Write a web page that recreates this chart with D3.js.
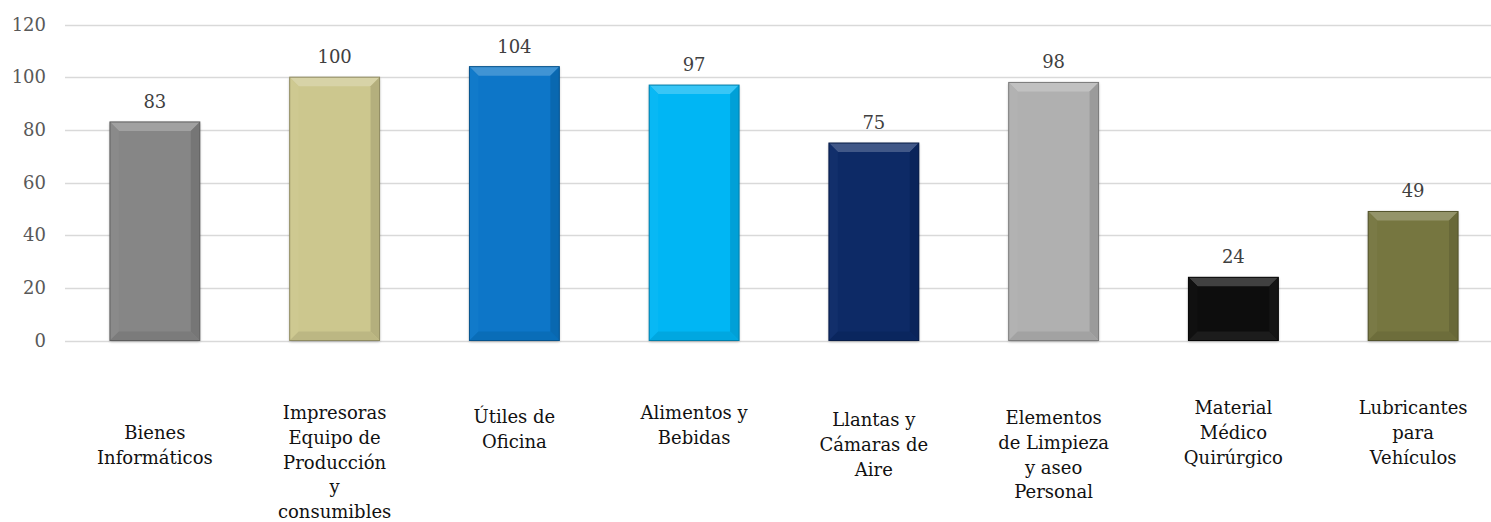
<!DOCTYPE html>
<html><head><meta charset="utf-8">
<script src="https://cdn.jsdelivr.net/npm/d3@7"></script>
<style>
html,body{margin:0;padding:0;background:#fff;}
svg{display:block;}
text{font-family:"DejaVu Serif",serif;}
</style></head>
<body>
<svg id="chart" width="1491" height="522"></svg>
<script>
// ---- data ----
const categories = [
  "Bienes Informáticos",
  "Impresoras Equipo de Producción y consumibles",
  "Útiles de Oficina",
  "Alimentos y Bebidas",
  "Llantas y Cámaras de Aire",
  "Elementos de Limpieza y aseo Personal",
  "Material Médico Quirúrgico",
  "Lubricantes para Vehículos"
];
const labelLines = [
  ["Bienes", "Informáticos"],
  ["Impresoras", "Equipo de", "Producción", "y", "consumibles"],
  ["Útiles de", "Oficina"],
  ["Alimentos y", "Bebidas"],
  ["Llantas y", "Cámaras de", "Aire"],
  ["Elementos", "de Limpieza", "y aseo", "Personal"],
  ["Material", "Médico", "Quirúrgico"],
  ["Lubricantes", "para", "Vehículos"]
];
const values = [83, 100, 104, 97, 75, 98, 24, 49];
const yTicks = [0, 20, 40, 60, 80, 100, 120];

// ---- styles / layout ----
const barColors = ["#868686", "#CCC78E", "#0A76C8", "#00B6F4", "#0B2966", "#B0B0B0", "#080808", "#767640"];
const labelTop = [433, 413, 417, 413, 420, 418, 408, 408];

const svg = d3.select("#chart");
const margin = {left: 65, right: -12, top: 24.5, bottom: 181.5};
const W = 1491, H = 522;

const x = d3.scaleBand().domain(categories).range([margin.left, W - margin.right]).paddingInner(0.5).paddingOuter(0.25);
const y = d3.scaleLinear().domain([0, 120]).range([H - margin.bottom, margin.top]);

// defs: shadow
const defs = svg.append("defs");
const f = defs.append("filter").attr("id", "sh").attr("x", "-20%").attr("y", "-20%").attr("width", "140%").attr("height", "140%");
f.append("feGaussianBlur").attr("in", "SourceAlpha").attr("stdDeviation", 1.5);
f.append("feOffset").attr("dx", 0).attr("dy", 1).attr("result", "b");
f.append("feComponentTransfer").append("feFuncA").attr("type", "linear").attr("slope", 0.3);
const fm = f.append("feMerge");
fm.append("feMergeNode");
fm.append("feMergeNode").attr("in", "SourceGraphic");

// gridlines
svg.append("g").selectAll("line").data(yTicks).join("line")
  .attr("x1", margin.left).attr("x2", W)
  .attr("y1", d => Math.round(y(d)) + 0.5).attr("y2", d => Math.round(y(d)) + 0.5)
  .attr("stroke", "#D9D9D9").attr("stroke-width", 1.5);

// y axis
const yAxis = d3.axisLeft(y).tickValues(yTicks).tickSize(0).tickPadding(0);
const ga = svg.append("g").attr("transform", `translate(46,0)`).call(yAxis);
ga.select(".domain").remove();
ga.selectAll("text").attr("font-size", 18).attr("fill", "#595959").attr("font-family", "DejaVu Serif");

// bars
const bw = x.bandwidth();
const bev = 9;
const bars = svg.append("g").selectAll("g.bar").data(values).join("g")
  .attr("class", "bar")
  .attr("transform", (d, i) => `translate(${x(categories[i])},${y(d)})`);

bars.append("rect")
  .attr("width", bw).attr("height", d => y(0) - y(d))
  .attr("fill", (d, i) => barColors[i])
  .attr("filter", "url(#sh)");

function lighter(c, k) { return d3.interpolateRgb(c, "#ffffff")(k); }
function darker(c, k) { return d3.interpolateRgb(c, "#000000")(k); }

bars.each(function(d, i) {
  const g = d3.select(this);
  const h = y(0) - y(d);
  const b = Math.min(bev, h / 2);
  const c = barColors[i];
  const blk = i === 6;
  // top bevel
  g.append("path").attr("d", `M0,0 L${bw},0 L${bw - b},${b} L${b},${b} Z`)
    .attr("fill", blk ? "#404040" : lighter(c, 0.22));
  // left bevel
  g.append("path").attr("d", `M0,0 L${b},${b} L${b},${h - b} L0,${h} Z`)
    .attr("fill", blk ? "#101010" : lighter(c, 0.03));
  // right bevel
  g.append("path").attr("d", `M${bw},0 L${bw},${h} L${bw - b},${h - b} L${bw - b},${b} Z`)
    .attr("fill", blk ? "#151515" : darker(c, 0.12));
  // bottom bevel
  g.append("path").attr("d", `M0,${h} L${b},${h - b} L${bw - b},${h - b} L${bw},${h} Z`)
    .attr("fill", blk ? "#1c1c1c" : darker(c, 0.08));
  // outline
  g.append("rect").attr("width", bw).attr("height", h).attr("fill", "none")
    .attr("stroke", darker(c, 0.3)).attr("stroke-width", 1);
});

// value labels
svg.append("g").selectAll("text").data(values).join("text")
  .attr("x", (d, i) => x(categories[i]) + bw / 2)
  .attr("y", d => y(d) - 14)
  .attr("text-anchor", "middle")
  .attr("font-size", 18).attr("fill", "#404040")
  .text(d => d);

// category labels
const cl = svg.append("g").selectAll("text").data(categories).join("text")
  .attr("text-anchor", "middle")
  .attr("font-size", 18).attr("fill", "#111");
cl.each(function(d, i) {
  const t = d3.select(this);
  labelLines[i].forEach((ln, j) => {
    t.append("tspan").attr("x", x(d) + bw / 2).attr("y", labelTop[i] + 6 + j * 24.8).text(ln);
  });
});
</script>
</body></html>
